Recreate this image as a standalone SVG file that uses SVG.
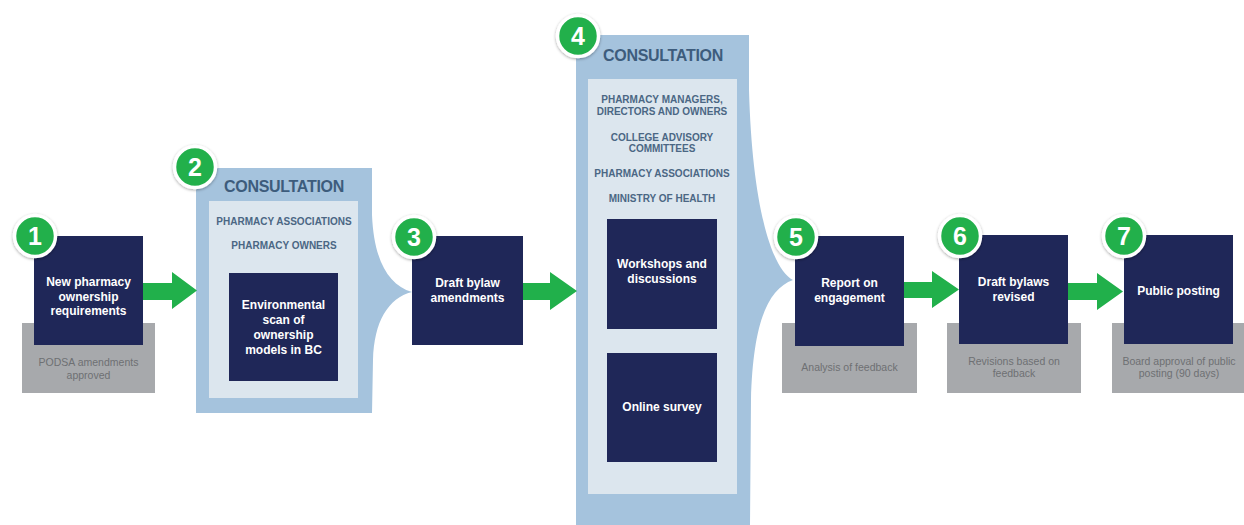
<svg xmlns="http://www.w3.org/2000/svg" width="1244" height="525" viewBox="0 0 1244 525">
  <defs>
    <style>
      .step { fill: #1f2758; }
      .note { fill: #a7a9ac; }
      .outer { fill: #a5c3dd; }
      .inner { fill: #dce6ee; }
      .flow { fill: #21b04b; }
      .t-step { font-family: "Liberation Sans", Arial, sans-serif; font-weight: bold; font-size: 12px; fill: #ffffff; text-anchor: middle; }
      .t-note { font-family: "Liberation Sans", Arial, sans-serif; font-size: 10.5px; fill: #6e7073; text-anchor: middle; }
      .t-title { font-family: "Liberation Sans", Arial, sans-serif; font-weight: bold; font-size: 16px; letter-spacing: -0.3px; fill: #3d5c7c; text-anchor: middle; }
      .t-group { font-family: "Liberation Sans", Arial, sans-serif; font-weight: bold; font-size: 10px; fill: #4b6784; text-anchor: middle; }
      .t-num { font-family: "Liberation Sans", Arial, sans-serif; font-weight: bold; font-size: 25px; fill: #ffffff; text-anchor: middle; }
      .ring { fill: #21b04b; stroke: #ffffff; stroke-width: 3.5; filter: url(#shadow); }
    </style>
    <filter id="shadow" x="-50%" y="-50%" width="200%" height="200%">
      <feDropShadow dx="0" dy="1" stdDeviation="1.6" flood-color="#000000" flood-opacity="0.35"/>
    </filter>
    <!-- numbered badge -->
    <g id="badge">
      <circle class="ring" cx="0" cy="0" r="20.5"/>
    </g>
  </defs>

  <rect width="1244" height="525" fill="#ffffff"/>

  <!-- Consultation phase 2 (funnel panel) -->
  <g id="consultation-2">
    <path class="outer" d="M196,168 L372,168 L372,215 C374,260 388,285 412,292 C388,298 374,322 373,360 L372,413 L196,413 Z"/>
    <rect class="inner" x="209" y="201" width="149" height="197"/>
    <text class="t-title" x="284" y="192">CONSULTATION</text>
    <text class="t-group" x="284" y="224.5">PHARMACY ASSOCIATIONS</text>
    <text class="t-group" x="284" y="249">PHARMACY OWNERS</text>
  </g>

  <!-- Consultation phase 4 (funnel panel) -->
  <g id="consultation-4">
    <path class="outer" d="M576,35 L749,35 L749,90 C752,200 770,268 793,280 C768,289 753,322 751,400 L750,525 L576,525 Z"/>
    <rect class="inner" x="588" y="79" width="149" height="415"/>
    <text class="t-title" x="663" y="61">CONSULTATION</text>
    <text class="t-group" x="662" y="103">PHARMACY MANAGERS,</text>
    <text class="t-group" x="662" y="115">DIRECTORS AND OWNERS</text>
    <text class="t-group" x="662" y="140.5">COLLEGE ADVISORY</text>
    <text class="t-group" x="662" y="152">COMMITTEES</text>
    <text class="t-group" x="662" y="177">PHARMACY ASSOCIATIONS</text>
    <text class="t-group" x="662" y="202">MINISTRY OF HEALTH</text>
  </g>

  <!-- Flow arrows between steps -->
  <g id="connectors">
    <polygon class="flow" points="143,283 172,283 172,272 197,290.5 172,309 172,300 143,300"/>
    <polygon class="flow" points="523,283 550,283 550,272 577,291 550,310 550,300 523,300"/>
    <polygon class="flow" points="904,282 932,282 932,271 959,289.5 932,308 932,298 904,298"/>
    <polygon class="flow" points="1068,283 1097,283 1097,273 1123,291.5 1097,310 1097,300 1068,300"/>
  </g>

  <!-- Step 1 -->
  <g id="step-1">
    <rect class="note" x="22" y="323" width="133" height="70"/>
    <rect class="step" x="34" y="236" width="109" height="109"/>
    <text class="t-step" x="88.5" y="286">New pharmacy</text>
    <text class="t-step" x="88.5" y="300.5">ownership</text>
    <text class="t-step" x="88.5" y="315">requirements</text>
    <text class="t-note" x="88.5" y="366">PODSA amendments</text>
    <text class="t-note" x="88.5" y="378.5">approved</text>
  </g>

  <!-- Step 2 inner activity -->
  <g id="step-2-scan">
    <rect class="step" x="229" y="273" width="109" height="108"/>
    <text class="t-step" x="283.5" y="309">Environmental</text>
    <text class="t-step" x="283.5" y="324">scan of</text>
    <text class="t-step" x="283.5" y="339">ownership</text>
    <text class="t-step" x="283.5" y="353.5">models in BC</text>
  </g>

  <!-- Step 3 -->
  <g id="step-3">
    <rect class="step" x="412" y="236" width="111" height="109"/>
    <text class="t-step" x="467.5" y="287">Draft bylaw</text>
    <text class="t-step" x="467.5" y="302">amendments</text>
  </g>

  <!-- Step 4 inner activities -->
  <g id="step-4-workshops">
    <rect class="step" x="607" y="219" width="110" height="110"/>
    <text class="t-step" x="662" y="268">Workshops and</text>
    <text class="t-step" x="662" y="283">discussions</text>
  </g>
  <g id="step-4-survey">
    <rect class="step" x="607" y="353" width="110" height="109"/>
    <text class="t-step" x="662" y="411">Online survey</text>
  </g>

  <!-- Step 5 -->
  <g id="step-5">
    <rect class="note" x="782" y="323" width="135" height="70"/>
    <rect class="step" x="795" y="236" width="109" height="110"/>
    <text class="t-step" x="849.5" y="287">Report on</text>
    <text class="t-step" x="849.5" y="302">engagement</text>
    <text class="t-note" x="849.5" y="371">Analysis of feedback</text>
  </g>

  <!-- Step 6 -->
  <g id="step-6">
    <rect class="note" x="947" y="323" width="134" height="70"/>
    <rect class="step" x="959" y="235" width="109" height="109"/>
    <text class="t-step" x="1013.5" y="286">Draft bylaws</text>
    <text class="t-step" x="1013.5" y="301">revised</text>
    <text class="t-note" x="1014" y="365">Revisions based on</text>
    <text class="t-note" x="1014" y="377">feedback</text>
  </g>

  <!-- Step 7 -->
  <g id="step-7">
    <rect class="note" x="1112" y="323" width="132" height="70"/>
    <rect class="step" x="1124" y="235" width="109" height="109"/>
    <text class="t-step" x="1178.5" y="295">Public posting</text>
    <text class="t-note" x="1179" y="365">Board approval of public</text>
    <text class="t-note" x="1179" y="377">posting (90 days)</text>
  </g>

  <!-- Step number badges -->
  <g id="badges">
    <g id="badge-1"><use href="#badge" x="35" y="236"/><text class="t-num" x="35" y="245">1</text></g>
    <g id="badge-2"><use href="#badge" x="195" y="167"/><text class="t-num" x="195" y="176">2</text></g>
    <g id="badge-3"><use href="#badge" x="414" y="237"/><text class="t-num" x="414" y="246">3</text></g>
    <g id="badge-4"><use href="#badge" x="578" y="36"/><text class="t-num" x="578" y="45">4</text></g>
    <g id="badge-5"><use href="#badge" x="796" y="237"/><text class="t-num" x="796" y="246">5</text></g>
    <g id="badge-6"><use href="#badge" x="960" y="236"/><text class="t-num" x="960" y="245">6</text></g>
    <g id="badge-7"><use href="#badge" x="1124" y="236"/><text class="t-num" x="1124" y="245">7</text></g>
  </g>
</svg>
